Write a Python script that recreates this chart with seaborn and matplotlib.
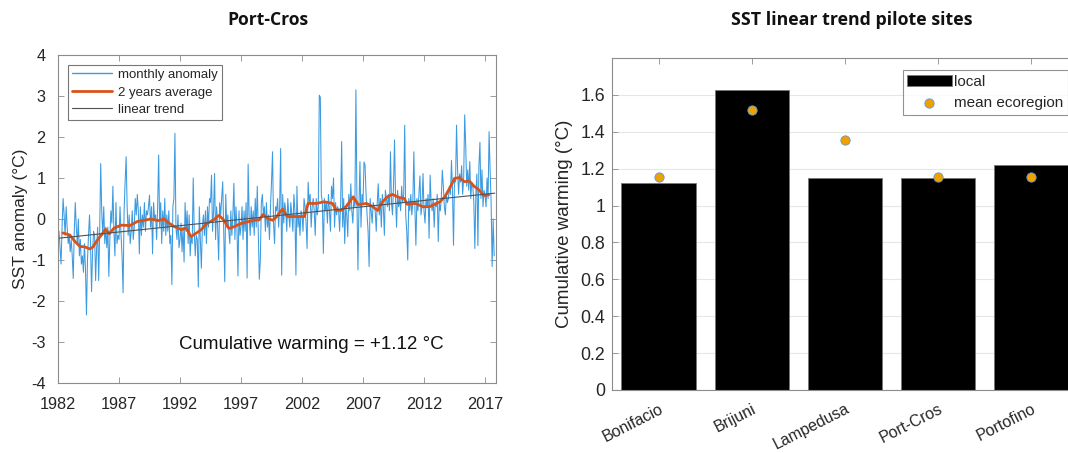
import numpy as np
import pandas as pd
import matplotlib
matplotlib.use("Agg")
import matplotlib.pyplot as plt
import seaborn as sns

# ---------------- data ----------------
start_year = 1982
anom_1982_1987 = [
    -0.5, -0.3, -0.7, -1.1, -0.2, 0.5, 0.1, -0.4, 0.3, -0.2, -0.6, -0.4,
    -0.8, -0.5, -0.9, -1.45, -0.3, 0.4, -0.2, -0.6, 0.0, -0.9, -0.5, -1.1,
    -0.9, -1.3, -0.6, -1.2, -2.34, -1.0, -0.4, 0.1, -0.6, -1.77, -0.8, -0.3,
    -0.4, -1.5, -0.7, -0.2, -1.5, -0.3, 1.35, 0.2, -0.4, 0.3, -0.6, -0.2,
    -0.7, -0.2, -1.4, -0.5, 0.2, -0.1, 0.8, -0.3, -0.9, 0.4, -0.6, -0.4,
    -0.5, 0.3, -0.4, -0.9, -1.8, 0.2, 0.9, 1.52, 0.3, -0.4, 0.1, -0.6]
anom_1988_1993 = [
    -0.3, 0.2, -0.5, -0.2, 0.5, 0.1, 0.6, 0.2, -0.85, 0.3, -0.4, 0.1,
    -0.2, 0.4, -0.3, 0.2, 0.1, 0.3, 0.58, -0.2, 0.3, -0.85, 0.4, 0.0,
    0.1, -0.5, 0.3, 1.56, -0.2, 0.4, -0.6, 0.2, -0.3, 0.5, -0.4, 0.1,
    -0.3, 0.2, -0.6, -0.4, -1.6, 0.3, 0.5, 2.09, -0.2, -0.5, 0.1, -0.7,
    -0.5, -0.1, -0.8, -0.2, -1.05, 0.4, -0.3, 0.2, -0.6, 0.1, -0.9, -0.4,
    -0.6, 1.0, -0.3, -0.9, -0.4, -0.5, -1.66, 0.3, -0.5, -1.2, -0.2, 0.1]
anom_1994_1999 = [
    -0.4, 0.2, -0.6, 0.3, -0.2, 0.5, 0.4, 1.07, -0.3, 0.2, 1.11, -0.5,
    0.3, -0.2, -1.0, 0.4, 0.1, 0.5, 0.91, -0.3, -1.53, 0.6, -0.2, 0.1,
    -0.3, -0.6, 0.2, -0.4, 0.1, 0.87, -0.5, 0.3, -0.2, -1.39, 0.2, -0.4,
    -0.2, 0.3, -0.5, 0.2, -0.3, 0.4, -1.44, 1.34, 0.1, -0.4, 0.3, -0.2,
    0.2, -0.4, 0.5, -0.2, 0.8, -0.3, -1.47, -1.0, 0.4, 0.6, 0.1, 0.3,
    -0.3, 0.4, -0.2, 0.1, -0.5, 0.3, 0.9, 1.64, -0.1, -0.6, 0.3, 0.2]
anom_2000_2005 = [
    0.5, -0.2, 0.3, 1.72, -1.37, 0.6, -0.1, 0.4, 0.2, -0.3, 0.5, 0.1,
    -0.2, 0.4, 0.1, -0.3, 0.6, 0.2, -1.37, 0.8, -0.2, 0.1, -0.4, 0.2,
    0.1, -0.3, 0.5, 0.3, -0.1, -0.72, 0.9, 0.4, 0.6, -0.2, 0.3, 0.5,
    0.2, -0.4, 0.5, 0.1, 0.3, 3.02, 2.97, 0.6, 0.4, -0.84, 0.5, 0.2,
    0.4, -0.1, 0.6, 0.2, -0.3, 0.8, 0.5, 1.0, -0.2, 0.4, 0.1, 0.3,
    0.2, -0.3, 0.4, 1.89, -0.2, 0.5, -0.6, 0.3, 0.1, -0.43, 0.6, 0.2]
anom_2006_2011 = [
    0.86, 0.2, -0.1, 0.5, 0.3, 3.15, 0.5, -1.24, 0.3, 1.4, -0.2, 0.6,
    0.4, 1.39, 1.32, 0.6, 0.1, -0.3, -1.16, 0.5, 0.2, -0.1, 0.4, 0.3,
    0.2, -0.3, 0.4, 0.86, 0.1, 0.5, -0.2, 0.6, 0.3, -0.4, 0.7, 0.5,
    0.3, 0.6, 0.2, 1.64, 0.4, 0.1, 0.8, 1.93, 0.5, -0.2, 0.7, 0.3,
    0.5, 0.2, 0.8, 0.4, 0.6, 2.29, 0.1, -0.3, -1.0, 0.5, 0.2, 0.6,
    0.1, 0.4, 1.64, 0.3, -0.64, 0.5, 0.2, 0.6, 1.05, 0.1, 0.3, 1.11]
anom_2012_2017 = [
    0.2, -0.1, 0.5, 0.3, 0.6, -0.47, 1.07, 0.4, 0.2, 0.5, -0.2, 0.4,
    0.3, 0.6, -0.55, 0.4, 0.2, 0.5, 1.19, 0.8, 0.3, 0.1, 0.6, 0.4,
    0.5, 0.8, 0.6, 1.43, 0.7, -0.64, 1.0, 0.9, 2.29, 1.2, 0.6, 1.1,
    0.9, 1.3, 0.6, 1.0, 2.54, 1.8, 0.8, 1.2, 0.7, 1.4, 0.5, 0.9,
    0.8, 0.4, -0.72, 0.6, 1.1, -0.65, 1.3, 1.87, 0.5, 1.2, 0.3, 0.7,
    0.6, 0.3, 1.0, 0.5, 2.13, 1.2, 0.4, -1.16, 0.0, -0.9]

avg_years = [1982.4, 1982.96, 1983.4, 1983.8, 1984.2, 1984.6, 1984.87, 1985.14,
             1985.55, 1985.9, 1986.2, 1986.6, 1987.2, 1987.9, 1988.5, 1989.1,
             1989.6, 1990.2, 1990.7, 1991.1, 1991.5, 1992.1, 1992.5, 1992.9,
             1993.3, 1993.7, 1994.2, 1994.8, 1995.2, 1995.6, 1996.0, 1996.4,
             1997.0, 1997.5, 1998.1, 1998.5, 1998.8, 1999.2, 1999.6, 1999.9,
             2000.4, 2000.8, 2001.5, 2002.2, 2002.5, 2003.2, 2003.8, 2004.5,
             2004.8, 2005.2, 2005.6, 2006.2, 2006.6, 2007.3, 2007.8, 2008.2,
             2008.6, 2009.0, 2009.4, 2010.0, 2010.4, 2010.6, 2011.3, 2011.6,
             2011.9, 2012.45, 2013.3, 2013.7, 2014.1, 2014.5, 2014.9, 2015.3,
             2015.7, 2016.1, 2016.5, 2016.9, 2017.3]
avg_values = [-0.34, -0.39, -0.55, -0.67, -0.68, -0.73, -0.68, -0.55,
              -0.39, -0.25, -0.36, -0.22, -0.15, -0.16, -0.06, -0.03,
              0.0, -0.04, 0.0, -0.10, -0.18, -0.26, -0.22, -0.43,
              -0.35, -0.27, -0.11, -0.01, 0.09, -0.03, -0.23, -0.19,
              -0.11, -0.07, -0.03, -0.02, 0.11, 0.01, -0.03, 0.05,
              0.24, 0.06, 0.06, 0.06, 0.38, 0.38, 0.42, 0.38,
              0.21, 0.21, 0.30, 0.54, 0.35, 0.38, 0.30, 0.21,
              0.42, 0.54, 0.60, 0.52, 0.50, 0.36, 0.38, 0.34,
              0.30, 0.30, 0.42, 0.54, 0.75, 0.99, 1.01, 0.91,
              0.93, 0.80, 0.71, 0.57, 0.59]

trend_years = [1982.0, 2017.8]
trend_values = [-0.47, 0.63]

year_ticks = [1982, 1987, 1992, 1997, 2002, 2007, 2012, 2017]
anom_ticks = [-4, -3, -2, -1, 0, 1, 2, 3, 4]

sites = ["Bonifacio", "Brijuni", "Lampedusa", "Port-Cros", "Portofino"]
local_warming = [1.12, 1.625, 1.15, 1.15, 1.22]
ecoregion_warming = [1.155, 1.52, 1.355, 1.155, 1.155]
warming_ticks = [0, 0.2, 0.4, 0.6, 0.8, 1, 1.2, 1.4, 1.6]

# ---------------- style ----------------
sns.set_style("ticks")
plt.rcParams['font.family'] = ['Liberation Sans', 'DejaVu Sans']
plt.rcParams['axes.unicode_minus'] = False

BLUE = '#3b9ae0'
ORANGE = '#d95319'
SPINE = '#8c8c8c'
TXT = '#262626'

fig = plt.figure(figsize=(10.68, 4.53), dpi=100)
W, H = 1068, 453


def px_axes(l, t, r, b):
    return fig.add_axes([l / W, 1 - b / H, (r - l) / W, (b - t) / H])


# ---------------- left panel ----------------
ax1 = px_axes(58, 55, 496, 383)
monthly = anom_1982_1987 + anom_1988_1993 + anom_1994_1999 + anom_2000_2005 + anom_2006_2011 + anom_2012_2017
df_m = pd.DataFrame({"year": start_year + np.arange(len(monthly)) / 12.0, "anom": monthly})
df_a = pd.DataFrame({"year": avg_years, "anom": avg_values})
df_t = pd.DataFrame({"year": trend_years, "anom": trend_values})

sns.lineplot(data=df_m, x="year", y="anom", ax=ax1, color=BLUE, lw=0.75, label="monthly anomaly")
sns.lineplot(data=df_a, x="year", y="anom", ax=ax1, color=ORANGE, lw=2.0, label="2 years average")
sns.lineplot(data=df_t, x="year", y="anom", ax=ax1, color='#505050', lw=0.8, label="linear trend")

ax1.set_xlim(1982, 2017.9)
ax1.set_ylim(-4, 4)
ax1.set_xticks(year_ticks)
ax1.set_yticks(anom_ticks)
ax1.set_xlabel("")
ax1.set_ylabel("SST anomaly (°C)", fontsize=12.5, color=TXT, labelpad=2)
ax1.tick_params(axis='x', direction='in', top=True, length=4, width=0.6, color=SPINE,
                labelsize=11.7, labelcolor=TXT, pad=10)
ax1.tick_params(axis='y', direction='in', right=True, length=4, width=0.6, color=SPINE,
                labelsize=11.7, labelcolor=TXT, pad=9)
for s in ax1.spines.values():
    s.set_color(SPINE)
    s.set_linewidth(0.8)
leg1 = ax1.legend(loc='upper left', bbox_to_anchor=(0.023, 0.97), borderaxespad=0,
                  fontsize=9.5, handlelength=3.0, frameon=True, fancybox=False,
                  borderpad=0.3, labelspacing=0.4, handletextpad=0.5)
leg1.get_frame().set_edgecolor('#555555')
leg1.get_frame().set_linewidth(0.8)
leg_lines = leg1.get_lines()
leg_lines[0].set_color(BLUE)
leg_lines[0].set_linewidth(1.0)
for t in leg1.get_texts():
    t.set_color(TXT)
ax1.text(1991.9, -3.05, "Cumulative warming = +1.12 °C", fontsize=13.5, color='#111111',
         ha='left', va='center')
fig.text(268 / W, 1 - 20 / H, "Port-Cros", fontsize=12.6, fontweight='bold',
         family=['Open Sans', 'DejaVu Sans'], ha='center', va='center', color='#111111')

# ---------------- right panel ----------------
ax2 = px_axes(612, 58, 1078, 390)
df_b = pd.DataFrame({"site": sites, "local": local_warming, "eco": ecoregion_warming})
ax2.set_axisbelow(True)
ax2.yaxis.grid(True, color='#e6e6e6', lw=0.8)
sns.barplot(data=df_b, x="site", y="local", ax=ax2, color='black', width=0.8,
            edgecolor='#777777', linewidth=0.6, saturation=1, label="local")
sns.scatterplot(data=df_b, x="site", y="eco", ax=ax2, color='#f0a000', s=45,
                edgecolor='#5b9bd5', linewidth=0.6, zorder=5, label="mean ecoregion")
ax2.set_xlim(-0.5, 4.5)
ax2.set_ylim(0, 1.8)
ax2.set_yticks(warming_ticks)
ax2.set_yticklabels([f"{v:g}" for v in warming_ticks])
ax2.set_xlabel("")
ax2.set_ylabel("Cumulative warming (°C)", fontsize=13.5, color=TXT, labelpad=5)
ax2.tick_params(axis='y', direction='in', left=True, right=False, length=4, width=0.6,
                color=SPINE, labelsize=12.8, labelcolor=TXT, pad=5)
ax2.tick_params(axis='x', direction='in', top=True, bottom=False, length=4, width=0.6,
                color=SPINE, labelsize=11.5, labelcolor=TXT, pad=8)
plt.setp(ax2.get_xticklabels(), rotation=27, ha='right', rotation_mode='anchor')
for s in ax2.spines.values():
    s.set_color(SPINE)
    s.set_linewidth(0.8)
handles, labels = ax2.get_legend_handles_labels()
order = [labels.index("local"), labels.index("mean ecoregion")]
leg2 = ax2.legend([handles[i] for i in order], [labels[i] for i in order],
                  loc='upper right', bbox_to_anchor=(0.978, 0.964), borderaxespad=0,
                  fontsize=11, handlelength=2.9, handleheight=0.8, frameon=True,
                  fancybox=False, borderpad=0.3, labelspacing=0.5, handletextpad=0.15)
leg2.get_frame().set_edgecolor('#777777')
leg2.get_frame().set_linewidth(0.8)
for t in leg2.get_texts():
    t.set_color(TXT)
fig.text(852 / W, 1 - 20 / H, "SST linear trend pilote sites", fontsize=12.8, fontweight='bold',
         family=['Open Sans', 'DejaVu Sans'], ha='center', va='center', color='#111111')

fig.savefig("out.png", dpi=100)
